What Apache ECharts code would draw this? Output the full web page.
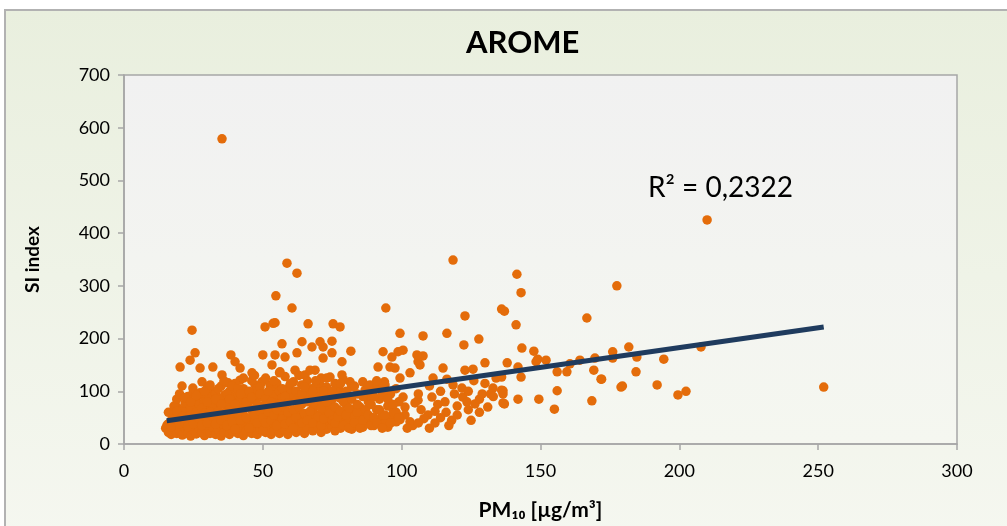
<!DOCTYPE html>
<html>
<head>
<meta charset="utf-8">
<script src="https://cdn.jsdelivr.net/npm/echarts@6/dist/echarts.min.js"></script>
<style>
html,body{margin:0;padding:0;background:#fff;}
#chart{width:1007px;height:526px;}
</style>
</head>
<body>
<div id="chart"></div>
<script>
const titleText = 'AROME';
const xAxisName = 'PM₁₀ [µg/m³]';
const yAxisName = 'SI index';
const r2Label = 'R² = 0,2322';
const xTicks = {min: 0, max: 300, interval: 50};
const yTicks = {min: 0, max: 700, interval: 100};

// outliers and sparse points
const outlierPoints = [
  [35.3,579],[210,425],[58.7,343],[62.3,324],[118.5,349],[141.5,322],[143,287],[177.5,300],
  [94.3,258],[54.7,281],[60.5,258],[122.8,243],[136,256],[137,252],[54.4,230],[166.7,239],[141.2,226]
];

// right-hand sparse points (x > 130)
const rightPoints = [
  [181.8,184],[176,175],[184.7,165],[194.4,161],[172,123],[184.4,137],[179,108],[192,112],[199.5,93],
  [202.4,100],[252,108],[207.8,184],[143.3,182],[147.6,176],[149,161],[148.4,156],[152,159],[138,154],
  [141.9,146],[143,127],[136,127],[156,137],[159.5,137],[160.6,152],[164.2,159],[169.6,163],[169.2,140],
  [171.8,123],[176,163],[179.5,110],[136.5,101],[136.5,95],[137,76],[141.9,85],[149.4,85],[156,101],
  [155,66],[168.5,82]
];

// middle region points (x 90-135)
const middlePoints = [
  [99.4,210],[107.7,205],[116.3,210],[122.4,188],[127.8,199],[98.7,175],[100.5,178],[96.5,165],[107.7,167],
  [105.9,156],[106.6,150],[130,154],[114.9,144],[95.8,146],[97.6,144],[103,135],[122.8,140],[125.7,142],
  [99.4,125],[93.8,118],[111.3,125],[116.3,123],[118.5,112],[121.7,106],[132.9,106],[136,102],[95.8,99],
  [100.5,89],[105.9,83],[110.9,89],[115.6,80],[122,89],[123.5,80],[126.4,76],[136.5,78],[96.5,70],
  [101.2,70],[104.8,78],[98.3,55],[101.2,55],[109.5,55],[95,42],[99.4,46],[103,42],[95,32],[105.5,169],
  [104,35],[108,48],[112,40],[116,60],[120,72],[124,65],[128,85],[132,95],[106,95],[110,110],[114,100],
  [126,120],[130,115],[134,125],[112,62],[118,45],[128,60],[131,70],
  [102,30],[106,40],[110,30],[114,50],[117,35],[120,55],[125,45],[107,65],[113,75],[119,95],[124,100],
  [129,95],[133,90]
];

// upper part of the dense cloud (x 50-95)
const cloudPoints = [
  [66.3,228],[75.3,228],[77.8,222],[56.9,190],[64.1,194],[71.7,184],[74.9,195],[74.9,173],[81.7,176],
  [71.7,163],[54.4,169],[58,165],[62.3,173],[93.3,175],[78.5,156],[68.8,140],[91.5,146],[53.3,150],
  [56.2,137],[61.6,140],[65.2,131],[74.2,127],[78.5,131],[81.4,118],[86.8,102],[88.6,112],[55.1,108],
  [59.8,112],[70.6,112],[76.7,108],[92.2,108],[57.3,83],[64.5,89],[68.1,74],[74.2,93],[77.8,87],
  [82.5,65],[85,61],[88.6,51],[92.2,46],[81.4,40],[82.1,30],[59.8,51],[65.9,51],[71.7,51],[76.7,46],
  [53.7,32],[59.8,27],[67,32],[73.1,36],[86,32],[95,36],[67.7,184],[70.6,194]
];

// left part of the dense cloud (x 15-55)
const leftPoints = [
  [24.5,216],[50.8,222],[53.7,229],[25.6,173],[23.8,159],[20.2,146],[27.4,144],[32,146],[38.5,169],
  [40,156],[41.8,144],[35.3,131],[46.1,135],[50,169],[20.9,110],[24.8,106],[28.1,118],[30.2,108],
  [27.4,97],[32,99],[37.5,116],[36.4,93],[41.8,121],[42.9,102],[47.2,112],[49.7,118],[52.6,112],
  [19.1,70],[17.3,59],[23,61],[25.6,65],[29.2,70],[33.8,74],[38.9,80],[44.3,87],[47.2,83],[50,89],
  [15.5,36],[16.6,27],[19.4,21],[23,23],[28.1,21],[32.8,27],[37.5,27],[42.5,23],[47.2,21],[51.9,27],
  [18.4,40],[25.6,42],[32.8,46],[40,51],[46.1,51],[50.8,59],[22,51],[29.2,51]
];

// dense low band (y below ~90)
const lowBand = [
  [15,30],[16,22],[16,38],[17,18],[17,45],[18,28],[18,55],[19,20],[19,35],[20,25],[20,48],[21,17],[21,40],
  [22,30],[22,58],[23,20],[23,45],[24,15],[24,35],[25,27],[25,52],[26,19],[26,40],[27,30],[27,62],[28,22],
  [28,48],[29,16],[29,36],[30,26],[30,55],[31,20],[31,42],[32,32],[32,65],[33,18],[33,50],[34,27],[34,40],
  [35,15],[35,58],[36,33],[36,22],[37,45],[37,70],[38,18],[38,30],[39,52],[39,25],[40,38],[40,62],[41,20],
  [41,47],[42,30],[42,75],[43,16],[43,55],[44,35],[44,25],[45,45],[45,68],[46,20],[46,52],[47,30],[47,40],
  [48,18],[48,60],[49,28],[49,48],[50,35],[50,72],[51,22],[51,55],[52,42],[52,30],[53,18],[53,65],[54,38],
  [54,25],[55,50],[55,80],[56,20],[56,45],[57,33],[57,60],[58,25],[58,70],[59,40],[59,18],[60,55],[60,30],
  [61,45],[61,85],[62,22],[62,62],[63,35],[63,50],[64,28],[64,75],[65,42],[65,20],[66,58],[66,32],[67,48],
  [67,90],[68,25],[68,65],[69,38],[69,55],[70,30],[70,78],[71,45],[71,22],[72,60],[72,35],[73,50],[73,28],
  [74,70],[74,42],[75,33],[75,85],[76,55],[76,25],[77,40],[77,65],[78,48],[78,30],[79,58],[80,38],[80,75],
  [81,45],[82,28],[82,62],[83,52],[84,35],[85,70],[85,45],[86,58],[87,40],[88,80],[89,50],[90,35],[91,65],
  [92,45],[93,55],[94,40],[95,72],[96,50],[97,60],[98,42],[99,80]
];

// middle band of the dense cloud (y 60-130)
const midBand = [
  [16,60],[18,72],[19,85],[20,95],[21,65],[22,78],[23,90],[24,70],[25,100],[26,82],[27,75],[28,92],[29,80],
  [30,105],[31,88],[32,72],[33,95],[34,82],[35,110],[36,90],[37,78],[38,100],[39,88],[40,115],[41,95],[42,85],
  [43,105],[44,92],[45,80],[46,120],[47,100],[48,88],[49,108],[50,95],[51,125],[52,85],[53,102],[54,92],
  [55,115],[56,100],[57,88],[58,128],[59,105],[60,95],[61,118],[62,100],[63,88],[64,112],[65,95],[66,120],
  [67,105],[68,85],[69,110],[70,98],[71,125],[72,88],[73,108],[74,95],[76,115],[78,100],[79,122],[80,90],
  [82,108],[84,95],[86,118],[88,92],[90,105],[92,85],[94,112],[96,95],[98,105]
];

// extra points filling the solid part of the cloud
const denseFill = [
  [17,33],[18,48],[19,62],[20,38],[21,52],[22,40],[22,88],[23,33],[24,55],[24,80],[25,38],[26,60],[26,92],
  [27,48],[28,35],[28,68],[29,58],[29,100],[30,40],[30,80],[31,60],[31,112],[32,52],[33,38],[33,85],[34,62],
  [34,105],[35,45],[35,75],[36,55],[36,120],[37,35],[37,95],[38,65],[38,85],[39,42],[39,110],[40,28],[40,75],
  [41,58],[41,105],[42,45],[42,95],[43,68],[43,125],[44,50],[44,80],[45,30],[45,100],[46,65],[46,88],[47,55],
  [47,130],[48,40],[48,75],[49,62],[49,95],[50,25],[50,50],[51,40],[51,85],[52,60],[52,100],[53,45],[53,80],
  [54,55],[54,120],[55,35],[55,65],[56,75],[56,135],[57,48],[57,105],[58,38],[58,90],[59,60],[59,78],[60,42],
  [60,115],[61,30],[61,65],[62,50],[62,82],[63,70],[63,130],[64,40],[64,95],[65,58],[65,108],[66,45],[66,80],
  [67,62],[67,140],[68,40],[68,100],[69,75],[69,120],[70,52],[70,88],[71,35],[71,68],[72,100],[72,48],[73,80],
  [73,125],[74,58],[75,45],[75,100],[76,70],[76,40],[77,90],[77,52],[78,62],[78,115],[79,35],[79,80],[80,55],
  [80,100],[81,68],[81,30],[82,85],[83,40],[83,110],[84,60],[84,75],[85,30],[86,90],[86,45],[87,65],[88,55],
  [88,110],[89,35],[89,75],[90,50],[90,90],[91,40],[91,120],[92,65],[93,30],[93,95],[94,55],[95,85],[96,40],
  [97,75],[98,60],[99,50]
];

// trend line end points
const trendX = [15.4, 252];
const trendY = [44, 222];

const allPoints = [].concat(outlierPoints, rightPoints, middlePoints, cloudPoints, leftPoints, lowBand, midBand, denseFill);
const trendData = trendX.map((x, i) => [x, trendY[i]]);

const FONT = 'Lato, "DejaVu Sans", sans-serif';
const chart = echarts.init(document.getElementById('chart'), null, {renderer: 'canvas'});
chart.setOption({
  animation: false,
  backgroundColor: '#ffffff',
  graphic: [
    {
      type: 'rect', z: -10, silent: true,
      shape: {x: 5, y: 10, width: 1010, height: 530},
      style: {
        fill: new echarts.graphic.LinearGradient(0, 0, 0, 1, [
          {offset: 0, color: '#e9efde'},
          {offset: 1, color: '#f5f7f0'}
        ]),
        stroke: '#b2b2b2', lineWidth: 2
      }
    },
    {
      type: 'text', left: 648, top: 174, z: 50,
      style: {text: r2Label, font: '28px ' + FONT, fill: '#000000'}
    }
  ],
  title: {
    text: titleText, left: 461, top: 22,
    textStyle: {fontFamily: FONT, fontWeight: 'bold', fontSize: 31, color: '#000'}
  },
  grid: {
    left: 124, right: 50, top: 75, bottom: 82, show: true,
    borderColor: '#a6a6a6', borderWidth: 1.5,
    backgroundColor: new echarts.graphic.LinearGradient(0, 0, 0, 1, [
      {offset: 0, color: '#f1f1f1'},
      {offset: 1, color: '#f5f7f0'}
    ])
  },
  xAxis: {
    type: 'value', min: xTicks.min, max: xTicks.max, interval: xTicks.interval,
    name: xAxisName, nameLocation: 'middle', nameGap: 56,
    nameTextStyle: {fontFamily: FONT, fontWeight: 'bold', fontSize: 21, color: '#000'},
    axisLine: {show: true, lineStyle: {color: '#a6a6a6', width: 1.5}},
    axisTick: {show: true, inside: false, length: 6, lineStyle: {color: '#a6a6a6', width: 1.5}},
    axisLabel: {fontFamily: FONT, fontSize: 18, color: '#000', margin: 18},
    splitLine: {show: false}
  },
  yAxis: {
    type: 'value', min: yTicks.min, max: yTicks.max, interval: yTicks.interval,
    name: yAxisName, nameLocation: 'middle', nameGap: 82, nameRotate: 90,
    nameTextStyle: {fontFamily: FONT, fontWeight: 'bold', fontSize: 19, color: '#000'},
    axisLine: {show: true, lineStyle: {color: '#a6a6a6', width: 1.5}},
    axisTick: {show: true, inside: false, length: 6, lineStyle: {color: '#a6a6a6', width: 1.5}},
    axisLabel: {fontFamily: FONT, fontSize: 18, color: '#000', margin: 14},
    splitLine: {show: false}
  },
  series: [
    {
      type: 'scatter', data: allPoints, symbolSize: 9.5, z: 2,
      itemStyle: {color: '#e46c0a', opacity: 1}
    },
    {
      type: 'line', data: trendData, symbol: 'none', z: 3,
      lineStyle: {color: '#1f3b5e', width: 5}
    }
  ]
});
</script>
</body>
</html>
